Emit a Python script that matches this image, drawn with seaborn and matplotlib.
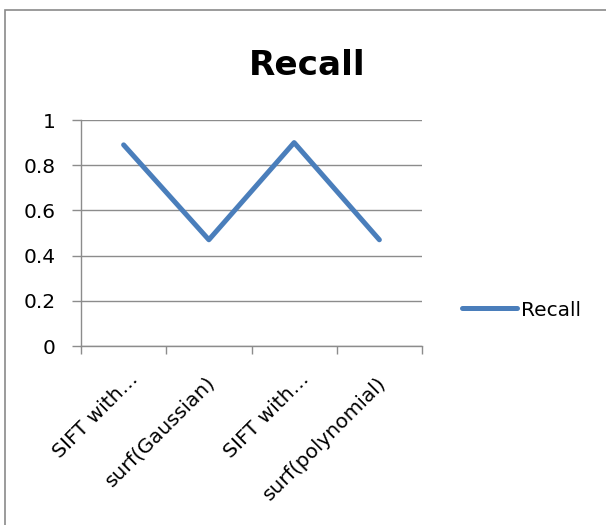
import numpy as np
import pandas as pd
import matplotlib
matplotlib.use("Agg")
import matplotlib.pyplot as plt
from matplotlib.patches import Rectangle
from matplotlib.transforms import ScaledTranslation
import seaborn as sns

# Data
categories = ["SIFT with…", "surf(Gaussian)", "SIFT with…", "surf(polynomial)"]
recall = [0.89, 0.47, 0.90, 0.47]
series_name = "Recall"
y_ticks = [0, 0.2, 0.4, 0.6, 0.8, 1.0]
y_tick_labels = ["0", "0.2", "0.4", "0.6", "0.8", "1"]

sns.set_theme(style="white")
plt.rcParams["font.family"] = ["DejaVu Sans"]
plt.rcParams["text.color"] = "black"

W, H, DPI = 606, 525, 100
fig = plt.figure(figsize=(W / DPI, H / DPI), dpi=DPI)
fig.patch.set_facecolor("white")

# chart frame (extends past right and bottom edges)
fig.patches.append(Rectangle((4.5 / W, -0.2), 1.5, 1.2 - 9.5 / H,
                             transform=fig.transFigure, fill=False,
                             edgecolor="#8a8a8a", linewidth=1.2))

ax = fig.add_axes([81 / W, 1 - 346 / H, 341 / W, 226 / H])
ax.set_facecolor("none")

df = pd.DataFrame({"pos": np.arange(len(recall)), series_name: recall})
grid_c = "#8c8c8c"
line_c = "#4A7EBB"

sns.lineplot(data=df, x="pos", y=series_name, ax=ax, color=line_c,
             linewidth=3.6, label=series_name,
             solid_capstyle="round", solid_joinstyle="round")

ax.set_xlim(-0.5, len(recall) - 0.5)
ax.set_ylim(0, 1)
ax.set_yticks(y_ticks)
ax.set_yticklabels(y_tick_labels)
ax.yaxis.grid(True, color=grid_c, linewidth=1.0)
ax.set_axisbelow(True)
ax.set_xlabel("")
ax.set_ylabel("")

for s in ["top", "right"]:
    ax.spines[s].set_visible(False)
for s in ["left", "bottom"]:
    ax.spines[s].set_color(grid_c)
    ax.spines[s].set_linewidth(1.0)

ax.tick_params(axis="y", direction="out", length=6.5, width=1.0, color=grid_c,
               pad=12, labelsize=14.5, labelcolor="black", left=True)

# category boundaries as tick marks
ax.set_xticks(np.arange(-0.5, len(recall)), minor=True)
ax.set_xticks(np.arange(len(recall)))
ax.set_xticklabels(categories)
ax.tick_params(axis="x", which="minor", direction="out", length=5.5, width=1.0,
               color=grid_c, bottom=True)
ax.tick_params(axis="x", which="major", length=0, pad=0, labelsize=14.5,
               labelcolor="black")

# rotated category labels; shorter labels sit a bit higher and further right
label_shift = [(5, -23), (-3, -27), (5, -23), (-3, -27)]
for lab, (dx, dy) in zip(ax.get_xticklabels(), label_shift):
    lab.set_rotation(45)
    lab.set_ha("right")
    lab.set_va("top")
    lab.set_rotation_mode("anchor")
    lab.set_transform(lab.get_transform()
                      + ScaledTranslation(dx / DPI, dy / DPI, fig.dpi_scale_trans))

leg = ax.legend(loc="center left", bbox_to_anchor=(462 / W, 1 - 310 / H),
                bbox_transform=fig.transFigure, frameon=False, fontsize=14.5,
                handlelength=2.75, handletextpad=0.2, borderpad=0,
                borderaxespad=0, labelcolor="black")

fig.text(307 / W, 1 - 75 / H, "Recall", ha="center", va="baseline",
         fontsize=24.7, fontweight="bold", color="black")

fig.savefig("out.png", dpi=DPI)
